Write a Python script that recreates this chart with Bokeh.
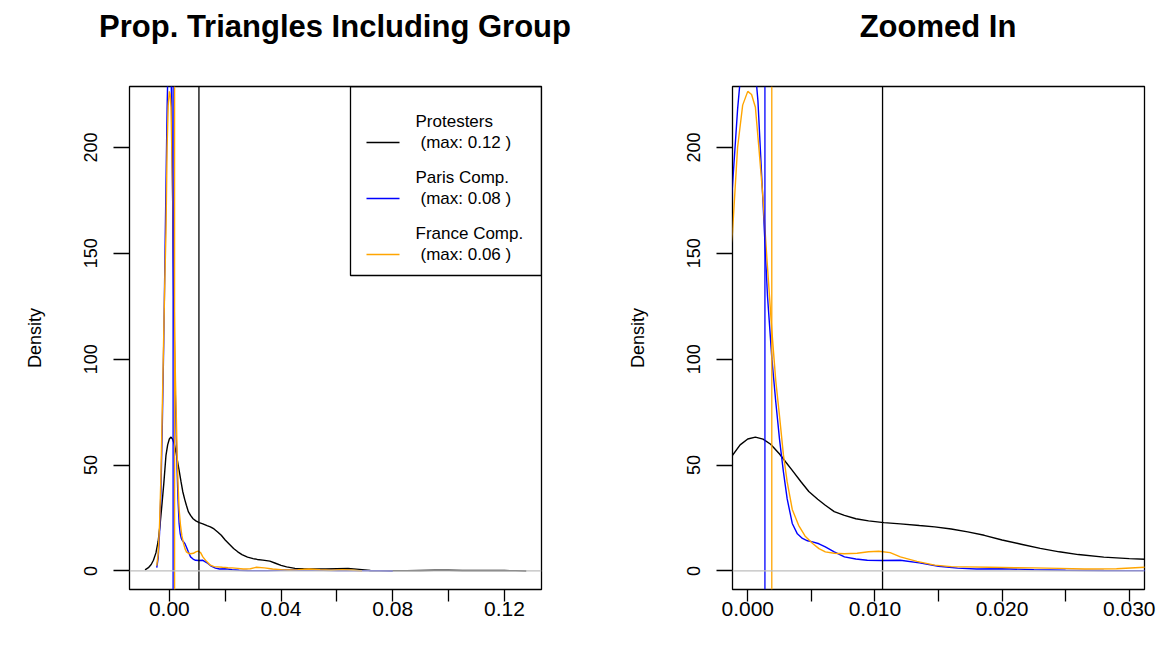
from bokeh.plotting import figure
from bokeh.layouts import row, column
from bokeh.models import Range1d, FixedTicker, NumeralTickFormatter, Span, BoxAnnotation, Div
from bokeh.core.properties import value
from bokeh.embed import file_html
from bokeh.resources import INLINE

# ---------------- data ----------------
prot_x = [-0.0087, -0.0075, -0.0065, -0.0057, -0.0048, -0.0040, -0.0033, -0.0026, -0.0020, -0.0012,
          -0.0006, 0.0000, 0.0006, 0.0012, 0.0018, 0.0025, 0.0030, 0.0035, 0.0042, 0.0048,
          0.0055, 0.0061, 0.0068, 0.0076, 0.0085, 0.0095, 0.0107, 0.0120, 0.0135, 0.0147,
          0.0160, 0.0173, 0.0186, 0.0200, 0.0215, 0.0230, 0.0245, 0.0260, 0.0280, 0.0300,
          0.0315, 0.0335, 0.0360, 0.0380, 0.0400, 0.0420, 0.0450, 0.0480, 0.0520, 0.0560,
          0.0600, 0.0640, 0.0680, 0.0720, 0.0760, 0.0800, 0.0850, 0.0900, 0.0950, 0.1000,
          0.1050, 0.1100, 0.1150, 0.1200, 0.1240, 0.1278]
prot_y = [0.5, 1.5, 3.0, 5.0, 8.5, 14.0, 22.0, 32.0, 41.0, 54.6,
          59.5, 62.3, 63.2, 62.2, 59.8, 55.2, 51.3, 47.5, 42.0, 37.5,
          33.8, 31.0, 28.0, 26.2, 24.6, 23.6, 22.8, 22.2, 21.4, 20.8,
          19.8, 18.4, 16.8, 14.6, 12.6, 10.6, 9.0, 7.7, 6.5, 5.8,
          5.4, 5.1, 4.6, 3.6, 2.6, 1.9, 1.2, 1.0, 0.9, 0.9,
          1.0, 1.1, 0.7, 0.2, 0.1, 0.1, 0.1, 0.2, 0.3, 0.3,
          0.2, 0.15, 0.2, 0.15, 0.1, 0.0]

paris_x = [-0.0045, -0.0040, -0.0035, -0.0030, -0.0025, -0.0020, -0.0016, -0.0012, -0.0008, -0.0004,
           0.0000, 0.0004, 0.0008, 0.0012, 0.00155, 0.0019, 0.0022, 0.0025, 0.0028, 0.0031,
           0.0035, 0.0039, 0.0043, 0.0047, 0.0051, 0.0056, 0.0061, 0.0068, 0.0076, 0.0085,
           0.0094, 0.0105, 0.0120, 0.0135, 0.0150, 0.0165, 0.0180, 0.0200, 0.0225, 0.0250,
           0.0280, 0.0312, 0.0350, 0.0400, 0.0450, 0.0500, 0.0550, 0.0600, 0.0650, 0.0700,
           0.0750, 0.0800]
paris_y = [1.5, 6.0, 18.0, 38.0, 70.0, 108.0, 145.0, 182.0, 218.0, 245.0,
           258.0, 250.0, 222.0, 174.0, 130.0, 100.0, 80.0, 62.0, 47.0, 34.0,
           22.4, 17.5, 15.3, 14.2, 13.7, 12.8, 11.3, 9.0, 6.6, 5.6,
           5.0, 4.9, 5.0, 3.8, 2.2, 1.3, 0.9, 1.0, 0.6, 0.3,
           0.2, 0.1, 0.1, 0.3, 0.4, 0.5, 0.3, 0.2, 0.1, 0.1,
           0.1, 0.0]

france_x = [-0.0045, -0.0040, -0.0035, -0.0030, -0.0025, -0.0020, -0.0016, -0.0012, -0.0008, -0.0004,
            0.0000, 0.0003, 0.0006, 0.0009, 0.0012, 0.0015, 0.0019, 0.0022, 0.0025, 0.0028,
            0.0031, 0.0035, 0.0040, 0.0045, 0.0051, 0.0056, 0.0061, 0.0068, 0.0076, 0.0086,
            0.0095, 0.0103, 0.0112, 0.0120, 0.0133, 0.0147, 0.0160, 0.0172, 0.0190, 0.0210,
            0.0225, 0.0245, 0.0265, 0.0290, 0.0312, 0.0340, 0.0370, 0.0400, 0.0430, 0.0460,
            0.0500, 0.0540, 0.0580, 0.0620, 0.0660, 0.0690]
france_y = [2.5, 8.0, 22.0, 45.0, 78.0, 112.0, 138.0, 160.0, 200.0, 220.0,
            226.5, 225.0, 219.0, 198.0, 176.0, 148.0, 113.0, 90.0, 73.0, 55.0,
            42.0, 29.0, 21.5, 16.5, 12.9, 10.5, 9.0, 8.3, 8.1, 8.3,
            9.0, 9.3, 8.6, 6.6, 4.5, 2.7, 2.0, 1.9, 1.7, 1.5,
            1.4, 1.2, 0.9, 1.0, 1.7, 1.4, 0.9, 0.6, 0.4, 0.6,
            0.9, 0.5, 0.3, 0.6, 0.3, 0.0]

series_names = ["Protesters", "Paris Comp.", "France Comp."]
series_max = ["0.12", "0.08", "0.06"]
series_means = [0.0106, 0.00135, 0.00189]
series_colors = ["#000000", "#0000FF", "#FFA500"]

left_xlim = (-0.0088, 0.1278)
right_xlim = (0.0, 0.03)
ylim = (0.0, 220.0)
left_xticks_major = [0.00, 0.04, 0.08, 0.12]
left_xticks_minor = [0.02, 0.06, 0.10]
right_xticks_major = [0.000, 0.010, 0.020, 0.030]
right_xticks_minor = [0.005, 0.015, 0.025]
yticks = [0, 50, 100, 150, 200]
titles = ["Prop. Triangles Including Group", "Zoomed In"]
ylabel = "Density"

# ---------------- layout / style ----------------
FONT = "Liberation Sans"
FW, FH = 412, 503
PW = 583   # width of each panel
TH = 50    # height of the title strip


def ext(lim):
    d = (lim[1] - lim[0]) * 0.04
    return (lim[0] - d, lim[1] + d)


def title_strip(title, bl):
    cx = bl + FW // 2
    html = ('<div style="position:relative;width:%dpx;height:%dpx;margin:0;padding:0;">'
            '<span style="position:absolute;left:%dpx;top:%dpx;transform:translate(-50%%,-50%%);'
            'white-space:nowrap;font-family:\'Liberation Sans\';font-size:31px;font-weight:bold;'
            'color:#000000;line-height:1;">%s</span></div>') % (PW, TH, cx, TH // 2 + 1, title)
    return Div(text=html, width=PW, height=TH, margin=0)


def make(xlim, xmaj, xmin, fmt, bl, br):
    xr = Range1d(*ext(xlim))
    yr = Range1d(*ext(ylim))
    p = figure(frame_width=FW, frame_height=FH, x_range=xr, y_range=yr,
               output_backend="svg", toolbar_location=None,
               min_border_left=bl, min_border_right=br,
               min_border_top=86 - TH, min_border_bottom=62,
               background_fill_color="white", border_fill_color="white")
    p.grid.visible = False
    p.outline_line_color = "black"
    p.outline_line_width = 1.3

    xa = p.xaxis[0]
    xa.ticker = FixedTicker(ticks=xmaj, minor_ticks=xmin)
    xa.formatter = NumeralTickFormatter(format=fmt)
    xa.axis_line_color = None
    xa.major_tick_in = 0
    xa.major_tick_out = 12
    xa.minor_tick_in = 0
    xa.minor_tick_out = 12
    xa.major_tick_line_width = 1.3
    xa.minor_tick_line_width = 1.3
    xa.major_tick_line_color = "black"
    xa.minor_tick_line_color = "black"
    xa.major_label_text_font = FONT
    xa.major_label_text_font_size = "21px"
    xa.major_label_text_color = "black"
    xa.major_label_standoff = 0

    ya = p.yaxis[0]
    ya.ticker = FixedTicker(ticks=yticks)
    ya.axis_line_color = None
    ya.major_tick_in = 0
    ya.major_tick_out = 16
    ya.minor_tick_out = 0
    ya.major_tick_line_width = 1.3
    ya.major_tick_line_color = "black"
    ya.major_label_orientation = "vertical"
    ya.major_label_text_font = FONT
    ya.major_label_text_font_size = "18px"
    ya.major_label_text_color = "black"
    ya.major_label_standoff = 16
    ya.axis_label = ylabel
    ya.axis_label_text_font = FONT
    ya.axis_label_text_font_size = "18px"
    ya.axis_label_text_font_style = "normal"
    ya.axis_label_text_color = "black"
    ya.axis_label_standoff = 37

    for xs, ys, c in zip([prot_x, paris_x, france_x], [prot_y, paris_y, france_y], series_colors):
        p.line(xs, ys, line_color=c, line_width=1.4)
    for m, c in zip(series_means, series_colors):
        p.add_layout(Span(location=m, dimension="height", line_color=c, line_width=1.3))
    p.add_layout(Span(location=0, dimension="width", line_color="#BEBEBE", line_width=1.3))
    return p, xr, yr


t1 = title_strip(titles[0], 129)
t2 = title_strip(titles[1], 149)
p1, xr1, yr1 = make(left_xlim, left_xticks_major, left_xticks_minor, "0.00", 129, 42)
p2, xr2, yr2 = make(right_xlim, right_xticks_major, right_xticks_minor, "0.000", 149, 22)


# legend in the left panel (top-right corner of the frame), positioned in frame pixels
def fx(px):
    return xr1.start + px * (xr1.end - xr1.start) / FW


def fy(py):
    return yr1.end - py * (yr1.end - yr1.start) / FH


box = BoxAnnotation(left=fx(221), right=xr1.end, top=yr1.end, bottom=fy(189),
                    fill_alpha=0, line_color="black", line_alpha=1.0, line_width=1.3)
p1.add_layout(box)
seg_y = [fy(56 + 56 * i) for i in range(3)]
p1.segment(x0=[fx(237)] * 3, x1=[fx(270)] * 3, y0=seg_y, y1=seg_y,
           line_color=series_colors, line_width=1.4)
p1.text(x=[fx(286)] * 3, y=[fy(35 + 56 * i) for i in range(3)], text=series_names,
        text_font=value(FONT), text_font_size="17px", text_baseline="middle",
        text_align="left", text_color="black")
p1.text(x=[fx(291)] * 3, y=seg_y, text=["(max: %s )" % m for m in series_max],
        text_font=value(FONT), text_font_size="17px", text_baseline="middle",
        text_align="left", text_color="black")

layout = row(column(t1, p1, spacing=0), column(t2, p2, spacing=0), spacing=0)
open("out.html", "w").write(file_html(layout, INLINE))
